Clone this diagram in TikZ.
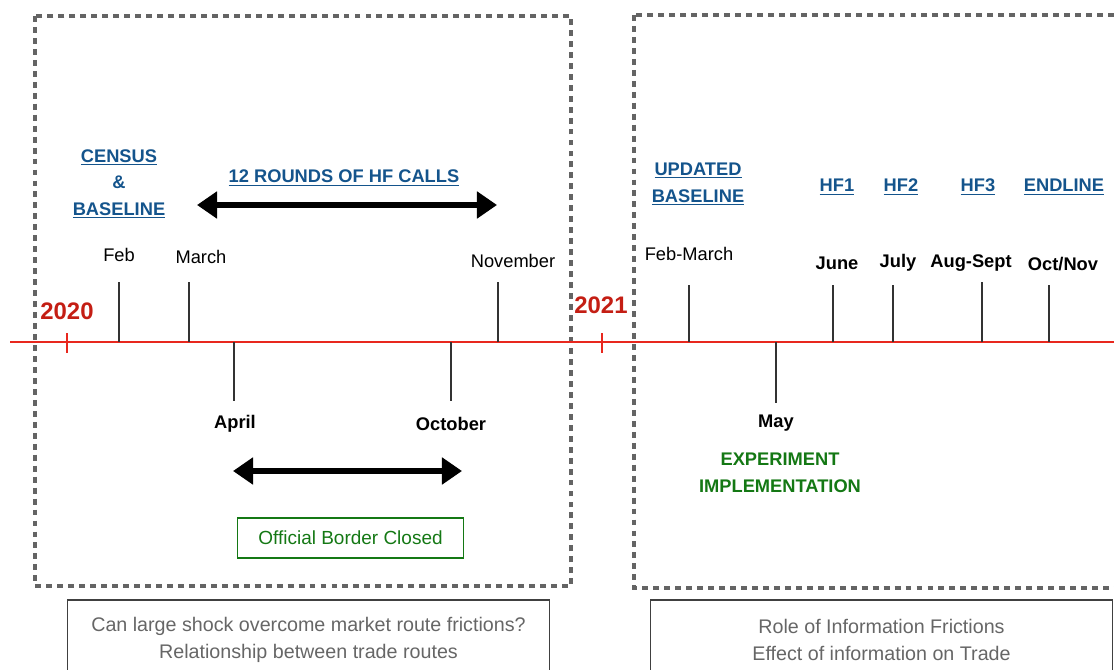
\documentclass[tikz,border=0pt]{standalone}
\usepackage{fontspec}
\setmainfont{Liberation Sans}
\definecolor{tlblue}{RGB}{20,84,140}
\definecolor{tlred}{RGB}{196,30,20}
\definecolor{tlline}{RGB}{232,40,30}
\definecolor{tlgreen}{RGB}{20,120,20}
\definecolor{boxgray}{RGB}{100,100,100}
\usetikzlibrary{arrows.meta}

\begin{document}
\begin{tikzpicture}[x=0.025cm, y=-0.025cm,
    month/.style={font=\fontsize{13}{16}\selectfont},
    monthb/.style={font=\fontsize{13}{16}\selectfont\bfseries},
    survey/.style={font=\fontsize{13}{19}\selectfont\bfseries, text=tlblue, align=center},
    yearlbl/.style={font=\fontsize{17}{20}\selectfont\bfseries, text=tlred},
    phase/.style={draw=boxgray, line width=2.2pt, dash pattern=on 4.2pt off 3.6pt},
    monthtick/.style={draw=black!80, line width=0.8pt},
    span/.style={line width=3.6pt, {Triangle[length=0.5cm,width=0.65cm]}-{Triangle[length=0.5cm,width=0.65cm]}},
    question/.style={rectangle, draw=black!75, line width=0.8pt, minimum height=2cm, align=center,
      text=black!60, font=\fontsize{14}{19}\selectfont}
  ]
    \useasboundingbox (0,0) rectangle (1114,670);

    % Phase boxes
    \draw[phase] (35,16) rectangle (571,586);
    \draw[phase] (634,15) rectangle (1140,588);

    % Timeline
    \coordinate (lineL) at (10,342);
    \coordinate (lineR) at (1114,342);
    \draw[tlline, line width=1.6pt] (lineL) -- (lineR);
    \foreach \n/\x in {y20/67, y21/602} {
      \coordinate (\n-a) at (\x,333);
      \coordinate (\n-b) at (\x,353);
      \draw[tlline, line width=1.2pt] (\n-a) -- (\n-b);
    }
    \node[yearlbl] (y2020) at (67,311) {2020};
    \node[yearlbl] (y2021) at (601,305) {2021};

    % Month ticks
    \foreach \n/\x/\y in {feb/119/282, mar/189/282, nov/498/282, apr/234/401, oct/451/401,
        febmar/689/285, jun/833/285, jul/893/285, aug/982/282, octnov/1049/285, may/776/403} {
      \coordinate (t-\n) at (\x,342);
      \coordinate (e-\n) at (\x,\y);
      \draw[monthtick] (t-\n) -- (e-\n);
    }

    % 2020 labels
    \node[month] (lfeb) at (119,255) {Feb};
    \node[month] (lmar) at (201,257) {March};
    \node[month] (lnov) at (513,261) {November};
    \node[monthb] (lapr) at (235,424) {April};
    \node[monthb] (loct) at (451,424) {October};

    \node[survey] (census) at (119,184) {\underline{CENSUS}\\\&\\\underline{BASELINE}};
    \node[survey] (hfcalls) at (344,178) {\underline{12 ROUNDS OF HF CALLS}};
    \coordinate (hfL) at (197,205);
    \coordinate (hfR) at (497,205);
    \draw[span] (hfL) -- (hfR);

    \coordinate (bcL) at (233,471);
    \coordinate (bcR) at (462,471);
    \draw[span] (bcL) -- (bcR);
    \node[draw=tlgreen, line width=0.8pt, text=tlgreen, minimum width=5.63cm, minimum height=1cm,
      font=\fontsize{13.5}{16}\selectfont] (border) at (350.5,538) {Official Border Closed};

    % 2021 labels
    \node[month] (lfebmar) at (689,254) {Feb-March};
    \node[monthb] (ljun) at (837,263) {June};
    \node[monthb] (ljul) at (898,263) {July};
    \node[monthb] (laug) at (971,263) {Aug-Sept};
    \node[monthb] (loctnov) at (1063,264) {Oct/Nov};
    \node[monthb] (lmay) at (776,423) {May};

    \node[survey] (updbase) at (698,184) {\underline{UPDATED}\\\underline{BASELINE}};
    \node[survey] (hf1) at (837,187) {\underline{HF1}};
    \node[survey] (hf2) at (901,187) {\underline{HF2}};
    \node[survey] (hf3) at (978,187) {\underline{HF3}};
    \node[survey] (endline) at (1064,187) {\underline{ENDLINE}};

    \node[survey, text=tlgreen] (exper) at (780,473) {EXPERIMENT\\IMPLEMENTATION};

    % Research questions
    \node[question, minimum width=12.03cm] (q2020) at (308.5,640)
      {Can large shock overcome market route frictions?\\Relationship between trade routes};
    \node[question, minimum width=11.53cm] (q2021) at (881.5,640)
      {Role of Information Frictions\\Effect of information on Trade};

  \end{tikzpicture}
\end{document}
